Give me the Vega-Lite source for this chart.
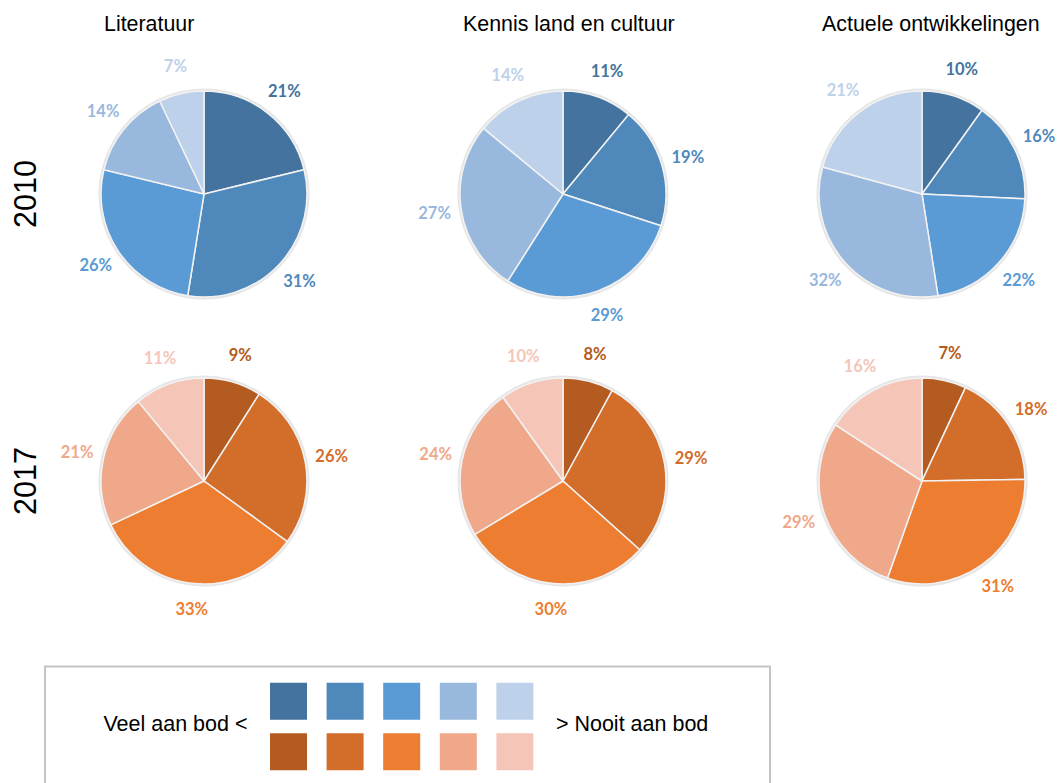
{
  "$schema": "https://vega.github.io/schema/vega-lite/v6.json",
  "padding": {"left": 11, "top": 9.5, "right": 0, "bottom": 0},
  "background": "white",
  "config": {"view": {"stroke": null}, "font": "Liberation Sans"},
  "datasets": {
    "pies": [
      {"year": "2010", "topic": "Literatuur", "level": 1, "key": "2010-1", "share": 0.21},
      {"year": "2010", "topic": "Literatuur", "level": 2, "key": "2010-2", "share": 0.31},
      {"year": "2010", "topic": "Literatuur", "level": 3, "key": "2010-3", "share": 0.26},
      {"year": "2010", "topic": "Literatuur", "level": 4, "key": "2010-4", "share": 0.14},
      {"year": "2010", "topic": "Literatuur", "level": 5, "key": "2010-5", "share": 0.07},
      {"year": "2010", "topic": "Kennis land en cultuur", "level": 1, "key": "2010-1", "share": 0.11},
      {"year": "2010", "topic": "Kennis land en cultuur", "level": 2, "key": "2010-2", "share": 0.19},
      {"year": "2010", "topic": "Kennis land en cultuur", "level": 3, "key": "2010-3", "share": 0.29},
      {"year": "2010", "topic": "Kennis land en cultuur", "level": 4, "key": "2010-4", "share": 0.27},
      {"year": "2010", "topic": "Kennis land en cultuur", "level": 5, "key": "2010-5", "share": 0.14},
      {"year": "2010", "topic": "Actuele ontwikkelingen", "level": 1, "key": "2010-1", "share": 0.10},
      {"year": "2010", "topic": "Actuele ontwikkelingen", "level": 2, "key": "2010-2", "share": 0.16},
      {"year": "2010", "topic": "Actuele ontwikkelingen", "level": 3, "key": "2010-3", "share": 0.22},
      {"year": "2010", "topic": "Actuele ontwikkelingen", "level": 4, "key": "2010-4", "share": 0.32},
      {"year": "2010", "topic": "Actuele ontwikkelingen", "level": 5, "key": "2010-5", "share": 0.21},
      {"year": "2017", "topic": "Literatuur", "level": 1, "key": "2017-1", "share": 0.09},
      {"year": "2017", "topic": "Literatuur", "level": 2, "key": "2017-2", "share": 0.26},
      {"year": "2017", "topic": "Literatuur", "level": 3, "key": "2017-3", "share": 0.33},
      {"year": "2017", "topic": "Literatuur", "level": 4, "key": "2017-4", "share": 0.21},
      {"year": "2017", "topic": "Literatuur", "level": 5, "key": "2017-5", "share": 0.11},
      {"year": "2017", "topic": "Kennis land en cultuur", "level": 1, "key": "2017-1", "share": 0.08},
      {"year": "2017", "topic": "Kennis land en cultuur", "level": 2, "key": "2017-2", "share": 0.29},
      {"year": "2017", "topic": "Kennis land en cultuur", "level": 3, "key": "2017-3", "share": 0.30},
      {"year": "2017", "topic": "Kennis land en cultuur", "level": 4, "key": "2017-4", "share": 0.24},
      {"year": "2017", "topic": "Kennis land en cultuur", "level": 5, "key": "2017-5", "share": 0.10},
      {"year": "2017", "topic": "Actuele ontwikkelingen", "level": 1, "key": "2017-1", "share": 0.07},
      {"year": "2017", "topic": "Actuele ontwikkelingen", "level": 2, "key": "2017-2", "share": 0.18},
      {"year": "2017", "topic": "Actuele ontwikkelingen", "level": 3, "key": "2017-3", "share": 0.31},
      {"year": "2017", "topic": "Actuele ontwikkelingen", "level": 4, "key": "2017-4", "share": 0.29},
      {"year": "2017", "topic": "Actuele ontwikkelingen", "level": 5, "key": "2017-5", "share": 0.16}
    ],
    "topics": [
      {"topic": "Literatuur"},
      {"topic": "Kennis land en cultuur"},
      {"topic": "Actuele ontwikkelingen"}
    ],
    "swatches": [
      {"row": 1, "level": 1, "key": "2010-1"},
      {"row": 1, "level": 2, "key": "2010-2"},
      {"row": 1, "level": 3, "key": "2010-3"},
      {"row": 1, "level": 4, "key": "2010-4"},
      {"row": 1, "level": 5, "key": "2010-5"},
      {"row": 2, "level": 1, "key": "2017-1"},
      {"row": 2, "level": 2, "key": "2017-2"},
      {"row": 2, "level": 3, "key": "2017-3"},
      {"row": 2, "level": 4, "key": "2017-4"},
      {"row": 2, "level": 5, "key": "2017-5"}
    ]
  },
  "spacing": 46,
  "vconcat": [
    {
      "bounds": "flush",
      "spacing": 50.5,
      "vconcat": [
        {
          "width": 1036,
          "height": 30,
          "data": {"name": "topics"},
          "mark": {"type": "text", "align": "left", "baseline": "middle", "fontSize": 21.4, "font": "Liberation Sans", "color": "#000000"},
          "encoding": {
            "x": {"field": "topic", "type": "nominal", "axis": null, "bandPosition": 0,
                  "sort": ["Literatuur", "Kennis land en cultuur", "Actuele ontwikkelingen"],
                  "scale": {"type": "band", "paddingInner": 0.443, "paddingOuter": 0.1643}},
            "text": {"field": "topic"}
          }
        },
        {
          "data": {"name": "pies"},
          "bounds": "flush",
          "facet": {
            "row": {
              "field": "year", "type": "ordinal",
              "header": {"title": null, "labelFontSize": 30.5, "labelFont": "Liberation Sans", "labelPadding": 2.5, "labelColor": "#000000", "labelExpr": "'\u00a0\u00a0' + datum.label"}
            },
            "column": {
              "field": "topic", "type": "nominal",
              "sort": ["Literatuur", "Kennis land en cultuur", "Actuele ontwikkelingen"],
              "header": null
            }
          },
          "spacing": {"row": 79, "column": 41},
          "spec": {
            "width": 318,
            "height": 208,
            "encoding": {
              "theta": {"field": "share", "type": "quantitative", "stack": "normalize"},
              "order": {"field": "level", "type": "quantitative"},
              "color": {
                "field": "key", "type": "nominal", "legend": null,
                "scale": {
                  "domain": ["2010-1", "2010-2", "2010-3", "2010-4", "2010-5", "2017-1", "2017-2", "2017-3", "2017-4", "2017-5"],
                  "range": ["#43739E", "#4F89BB", "#5B9BD5", "#99B8DE", "#BED1EA", "#B35B21", "#D36D2A", "#ED7D31", "#F0A88A", "#F5C6B8"]
                }
              }
            },
            "layer": [
              {"mark": {"type": "arc", "outerRadius": 105.5, "opacity": 0.22}, "encoding": {"color": {"value": "#8c8c8c"}}},
              {"mark": {"type": "arc", "outerRadius": 103, "stroke": "#f2f2f2", "strokeWidth": 1.5}},
              {"mark": {"type": "text", "radius": 130, "font": "Lato", "fontWeight": "bold", "fontSize": 16.5}, "encoding": {"text": {"field": "share", "type": "quantitative", "format": ".0%"}}}
            ]
          }
        }
      ]
    },
    {
      "width": 725,
      "height": 125,
      "view": {"stroke": "#C4C4C4", "strokeWidth": 2},
      "data": {"name": "swatches"},
      "encoding": {
        "x": {"field": "level", "type": "quantitative", "axis": null, "scale": {"domain": [-3.302, 9.507], "zero": false, "nice": false}},
        "y": {"field": "row", "type": "quantitative", "axis": null, "scale": {"domain": [0.311, 2.786], "reverse": true, "zero": false, "nice": false}}
      },
      "layer": [
        {"mark": {"type": "square", "size": 1369, "filled": true, "opacity": 1, "strokeWidth": 0},
         "encoding": {"color": {"field": "key", "type": "nominal", "legend": null}}},
        {"data": {"values": [{"label": "Veel aan bod <", "level": 1, "row": 1.46}]},
         "mark": {"type": "text", "align": "right", "baseline": "middle", "dx": -41, "fontSize": 21.5, "font": "Liberation Sans", "color": "#000000"},
         "encoding": {"text": {"field": "label"}}},
        {"data": {"values": [{"label": "> Nooit aan bod", "level": 5, "row": 1.46}]},
         "mark": {"type": "text", "align": "left", "baseline": "middle", "dx": 41, "fontSize": 21.5, "font": "Liberation Sans", "color": "#000000"},
         "encoding": {"text": {"field": "label"}}}
      ]
    }
  ]
}
